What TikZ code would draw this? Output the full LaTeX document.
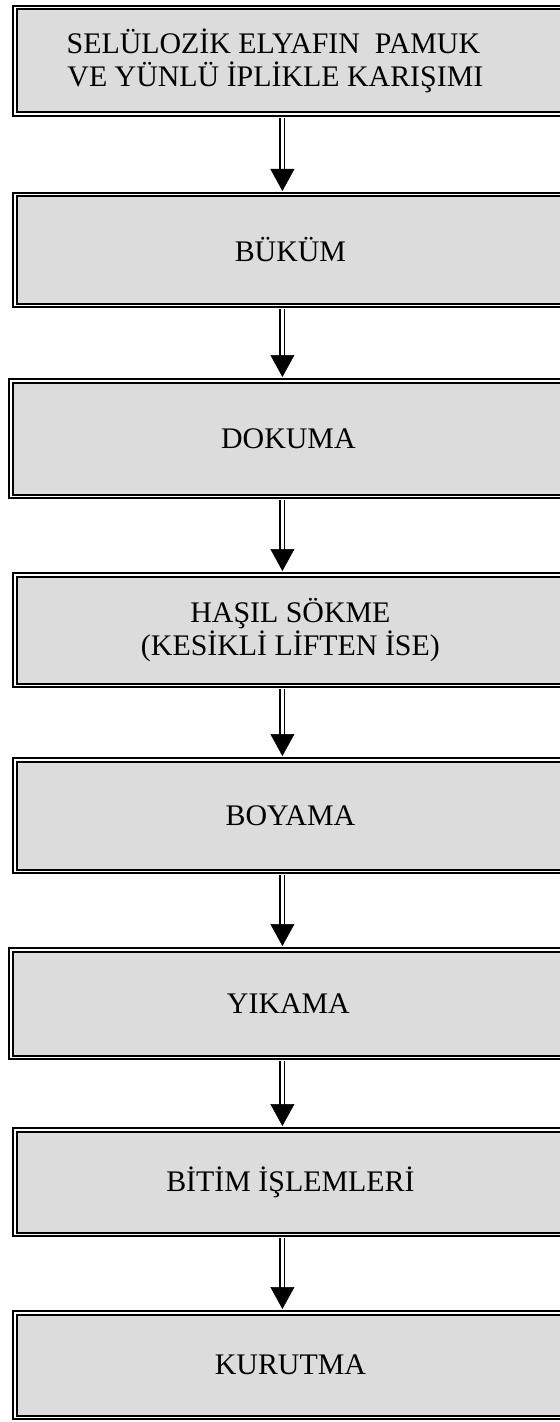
\documentclass[tikz,border=0pt]{standalone}
\usepackage{fontspec}
\setmainfont{Liberation Serif}
\usepackage{tikz}
\usetikzlibrary{positioning, arrows.meta}
\usepackage{xcolor}
\definecolor{boxgray}{HTML}{DCDCDC}

\begin{document}
\begin{tikzpicture}[
      x=1bp, y=-1bp,
      every node/.style={font=\fontsize{30}{33}\selectfont},
      stage/.style={draw, double, line width=2bp, double distance=1.5bp, fill=boxgray,
        minimum width=551.25bp, align=center, inner sep=0pt},
      wide/.style={minimum width=555.25bp},
      shaft/.style={draw, double, line width=1.5bp, double distance=3bp,
        shorten <=2.75bp, shorten >=18bp},
      head/.style={draw=white, line width=0.5bp, shorten <=6bp, shorten >=2.75bp,
        -{Triangle[length=22bp, width=24bp, color=black, fill=black]}},
    ]
    \useasboundingbox (0,0) rectangle (560,1422);
    \clip (0,0) rectangle (560,1422);

    \node[stage, minimum height=106.5bp] (b1) at (290.4,61) {SELÜLOZİK ELYAFIN \ PAMUK\hspace*{34bp}\\
      VE YÜNLÜ İPLİKLE KARIŞIMI\hspace*{30bp}};
    \node[stage, minimum height=110.5bp] (b2) at (290.4,250) {BÜKÜM};
    \node[stage, wide, minimum height=115.5bp] (b3) at (288.4,438.5) {DOKUMA};
    \node[stage, minimum height=110.5bp] (b4) at (290.4,630) {HAŞIL SÖKME\\
      (KESİKLİ LİFTEN İSE)};
    \node[stage, minimum height=111.5bp] (b5) at (290.4,815.5) {BOYAMA};
    \node[stage, wide, minimum height=107.5bp] (b6) at (288.4,1003.5) {YIKAMA};
    \node[stage, minimum height=104.5bp] (b7) at (290.4,1182) {BİTİM İŞLEMLERİ};
    \node[stage, minimum height=104.5bp] (b8) at (290.4,1365) {KURUTMA};

    % double-shaft arrows between the stages
    \foreach \a/\b in {b1/b2, b2/b3, b3/b4, b4/b5, b5/b6, b6/b7, b7/b8} {
      \draw[shaft] ([xshift=-8bp]b1.south |- \a.south) -- ([xshift=-8bp]b1.south |- \b.north);
      \draw[head] ([xshift=-8bp]b1.south |- \a.south) -- ([xshift=-8bp]b1.south |- \b.north);
    }
  \end{tikzpicture}
\end{document}
